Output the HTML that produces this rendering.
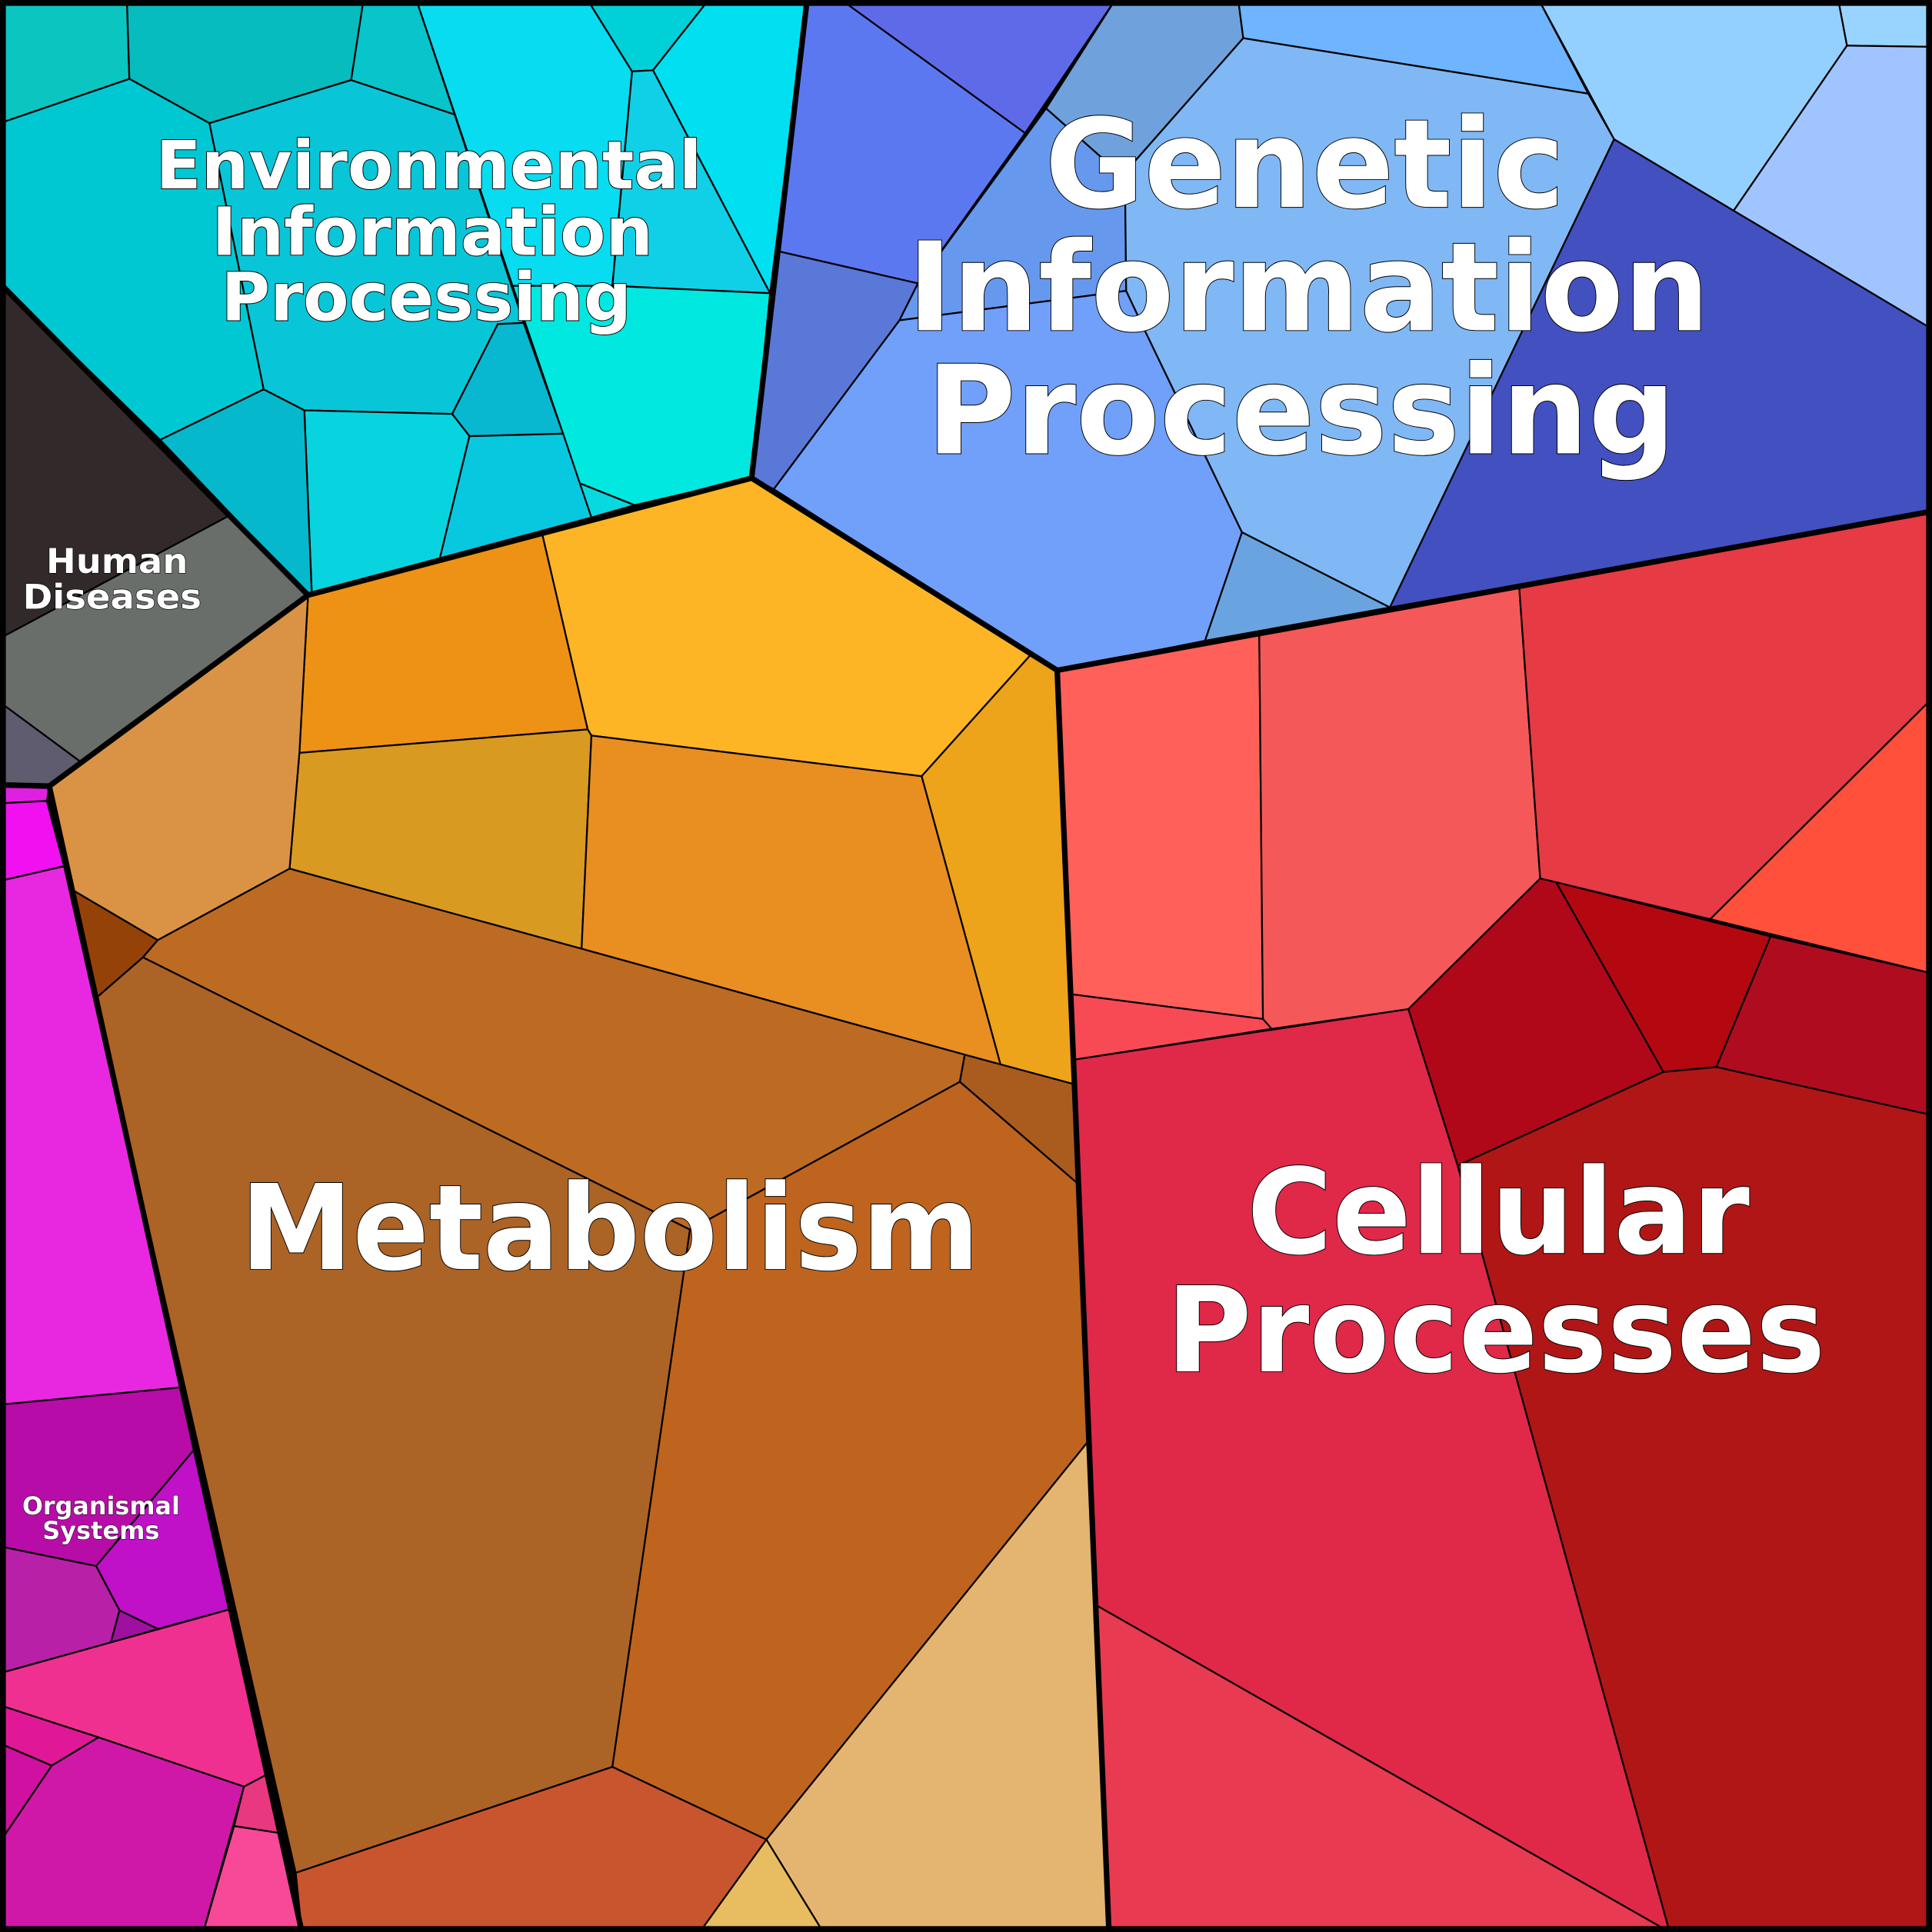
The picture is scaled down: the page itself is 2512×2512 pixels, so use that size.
<!DOCTYPE html>
<html><head><meta charset="utf-8"><style>html,body{margin:0;padding:0;background:#000}svg{display:block}</style></head><body>
<svg xmlns="http://www.w3.org/2000/svg" width="2512" height="2512" viewBox="0 0 1568 1568">
<g stroke="#000" stroke-width="1.4" stroke-linejoin="round">
<!-- Environmental -->
<polygon fill="#0bc5c0" points="0,0 103,0 105,64 0,100"/>
<polygon fill="#06bcbf" points="103,0 295,0 285,65 170,100 105,64"/>
<polygon fill="#08c4cb" points="295,0 338,0 369,93 285,65"/>
<polygon fill="#00c8d2" points="0,100 105,64 170,100 214,316 130,357 0,230"/>
<polygon fill="#08c6d8" points="170,100 285,65 369,93 425,262 404,263 367,336 247,333 214,316"/>
<polygon fill="#08dcf0" points="338,0 477,0 513,58 497,232 416,232"/>
<polygon fill="#00d0d8" points="477,0 575,0 530,57 513,58"/>
<polygon fill="#10d0e8" points="513,58 530,57 625,238 497,232"/>
<polygon fill="#00e0f0" points="530,57 575,0 655,0 625,238"/>
<polygon fill="#00e8e0" points="416,232 497,232 625,238 610,388 515,410 470,392 457,352"/>
<polygon fill="#08d8e0" points="470,392 515,410 480,420"/>
<polygon fill="#08b8d0" points="367,336 404,263 425,262 457,352 381,354"/>
<polygon fill="#08d4e0" points="247,333 367,336 381,354 357,453 253,481"/>
<polygon fill="#08c8e0" points="381,354 457,352 480,420 357,453"/>
<polygon fill="#06b8cc" points="130,357 214,316 247,333 253,481 250,483"/>
<!-- Human diseases -->
<polygon fill="#322a2a" points="0,230 187,418 0,518"/>
<polygon fill="#6a6e6a" points="0,518 187,418 250,483 65,618 0,570"/>
<polygon fill="#5e5c6e" points="0,570 65,618 40,638 0,637"/>
<!-- Organismal -->
<polygon fill="#e020e0" points="0,638 40,638 38,650 0,652"/>
<polygon fill="#f010f0" points="0,652 38,650 52,703 0,715"/>
<polygon fill="#e828e0" points="0,715 52,703 147,1126 0,1140"/>
<polygon fill="#b80ca8" points="0,1140 147,1126 158,1176 78,1271 0,1255"/>
<polygon fill="#c010c8" points="158,1176 187,1306 128,1322 97,1307 78,1271"/>
<polygon fill="#b820a8" points="0,1255 78,1271 97,1307 90,1333 0,1358"/>
<polygon fill="#a010a0" points="97,1307 128,1322 90,1333"/>
<polygon fill="#f03090" points="0,1358 187,1306 217,1440 198,1450 0,1384"/>
<polygon fill="#e01898" points="0,1384 80,1410 42,1433 0,1415"/>
<polygon fill="#d010a0" points="0,1415 42,1433 0,1495"/>
<polygon fill="#d018a8" points="42,1433 80,1410 198,1450 165,1568 0,1568 0,1495"/>
<polygon fill="#e83880" points="198,1450 217,1440 229,1488 190,1482"/>
<polygon fill="#f84898" points="190,1482 229,1488 245,1568 165,1568"/>
<!-- Metabolism -->
<polygon fill="#ee9215" points="250,483 440,433 477,592 243,611"/>
<polygon fill="#fdb525" points="440,433 610,388 836,532 748,630 480,597 477,592"/>
<polygon fill="#eda31a" points="836,532 858,544 872,880 812,864 748,630"/>
<polygon fill="#d99a22" points="243,611 477,592 480,597 472,770 235,705"/>
<polygon fill="#e98e20" points="480,597 748,630 812,864 783,856 472,770"/>
<polygon fill="#da9345" points="250,483 243,611 235,705 128,763 60,723 40,638"/>
<polygon fill="#954208" points="60,723 128,763 116,777 78,810"/>
<polygon fill="#bd6b22" points="235,705 472,770 783,856 779,878 560,998 116,777 128,763"/>
<polygon fill="#aa5c1e" points="783,856 872,880 874,960 779,878"/>
<polygon fill="#ab6326" points="116,777 560,998 497,1434 240,1520 78,810"/>
<polygon fill="#be641e" points="560,998 779,878 874,960 883,1170 622,1493 497,1434"/>
<polygon fill="#c8552d" points="240,1520 497,1434 622,1493 568,1568 245,1568"/>
<polygon fill="#e4b570" points="622,1493 883,1170 900,1568 668,1568"/>
<polygon fill="#e8bc60" points="622,1493 668,1568 568,1568"/>
<!-- Genetic -->
<polygon fill="#5c78f0" points="655,0 683,0 832,108 745,230 632,204"/>
<polygon fill="#5e6ae8" points="683,0 905,0 832,108"/>
<polygon fill="#5a78d8" points="632,204 745,230 730,260 628,397 610,388"/>
<polygon fill="#6fa2dc" points="849,88 905,0 1005,0 1009,31 913,140 893,127"/>
<polygon fill="#6699ee" points="849,88 893,127 913,140 914,236 730,260 745,230"/>
<polygon fill="#70a0fa" points="628,397 730,260 914,236 930,270 1008,432 978,520 858,544"/>
<polygon fill="#6eb4ff" points="1005,0 1249,0 1289,76 1009,31"/>
<polygon fill="#80b8f5" points="1009,31 1289,76 1310,113 1128,493 1008,432 930,270 914,236 913,140"/>
<polygon fill="#6aa4e0" points="1008,432 1128,493 978,520"/>
<polygon fill="#94d0ff" points="1249,0 1492,0 1499,37 1407,171 1310,113"/>
<polygon fill="#98d4ff" points="1492,0 1568,0 1568,38 1499,37"/>
<polygon fill="#a0c4ff" points="1499,37 1568,38 1568,267 1407,171"/>
<polygon fill="#4350c0" points="1310,113 1407,171 1568,267 1568,415 1128,493"/>
<!-- Cellular -->
<polygon fill="#ff605a" points="858,544 1022,515 1025,827 870,807"/>
<polygon fill="#f55858" points="1022,515 1233,477 1250,713 1143,819 1032,835 1025,827"/>
<polygon fill="#e63a44" points="1233,477 1568,415 1568,567 1388,746 1250,713"/>
<polygon fill="#ff503c" points="1388,746 1568,567 1568,790"/>
<polygon fill="#f84a55" points="870,807 1025,827 1032,835 872,860"/>
<polygon fill="#b00818" points="1250,713 1263,716 1350,870 1183,946 1143,819"/>
<polygon fill="#b40810" points="1263,716 1437,760 1393,866 1350,870"/>
<polygon fill="#b00c20" points="1437,760 1568,790 1568,905 1393,866"/>
<polygon fill="#b01616" points="1183,946 1350,870 1393,866 1568,905 1568,1568 1355,1568"/>
<polygon fill="#e02848" points="872,860 1143,819 1183,946 1355,1568 890,1303"/>
<polygon fill="#e83a50" points="890,1303 1355,1568 900,1568"/>
</g>
<g fill="none" stroke="#000" stroke-width="4.5" stroke-linejoin="round">
<polyline points="0,230 250,483 610,388 655,0"/>
<polyline points="250,483 40,638 0,637"/>
<polyline points="40,638 245,1568"/>
<polyline points="610,388 858,544 1568,415"/>
<polyline points="858,544 872,880 900,1568"/>
<rect x="2.5" y="2.5" width="1563" height="1563"/>
</g>
<g font-family="DejaVu Sans, Liberation Sans, sans-serif" font-weight="bold" fill="#fff" stroke="#000" stroke-width="1.2" paint-order="stroke" text-anchor="middle" lengthAdjust="spacingAndGlyphs">
<text x="348" y="153" font-size="54" textLength="443" lengthAdjust="spacingAndGlyphs">Environmental</text>
<text x="351" y="207" font-size="54" textLength="358" lengthAdjust="spacingAndGlyphs">Information</text>
<text x="346" y="260" font-size="54" textLength="333" lengthAdjust="spacingAndGlyphs">Processing</text>
<text x="1059" y="168" font-size="100" textLength="422" lengthAdjust="spacingAndGlyphs">Genetic</text>
<text x="1062" y="268" font-size="100" textLength="651" lengthAdjust="spacingAndGlyphs">Information</text>
<text x="1056" y="368" font-size="100" textLength="608" lengthAdjust="spacingAndGlyphs">Processing</text>
<text x="495" y="1030" font-size="96" textLength="600" lengthAdjust="spacingAndGlyphs">Metabolism</text>
<text x="1216" y="1017" font-size="96" textLength="408" lengthAdjust="spacingAndGlyphs">Cellular</text>
<text x="1214" y="1113" font-size="96" textLength="535" lengthAdjust="spacingAndGlyphs">Processes</text>
<text x="95" y="465" font-size="28" stroke-width="0.8" textLength="115" lengthAdjust="spacingAndGlyphs">Human</text>
<text x="91" y="494" font-size="28" stroke-width="0.8" textLength="145" lengthAdjust="spacingAndGlyphs">Diseases</text>
<text x="82" y="1229" font-size="20" stroke-width="0.6" textLength="128" lengthAdjust="spacingAndGlyphs">Organismal</text>
<text x="82" y="1249" font-size="20" stroke-width="0.6" textLength="95" lengthAdjust="spacingAndGlyphs">Systems</text>
</g>
</svg>
</body></html>
